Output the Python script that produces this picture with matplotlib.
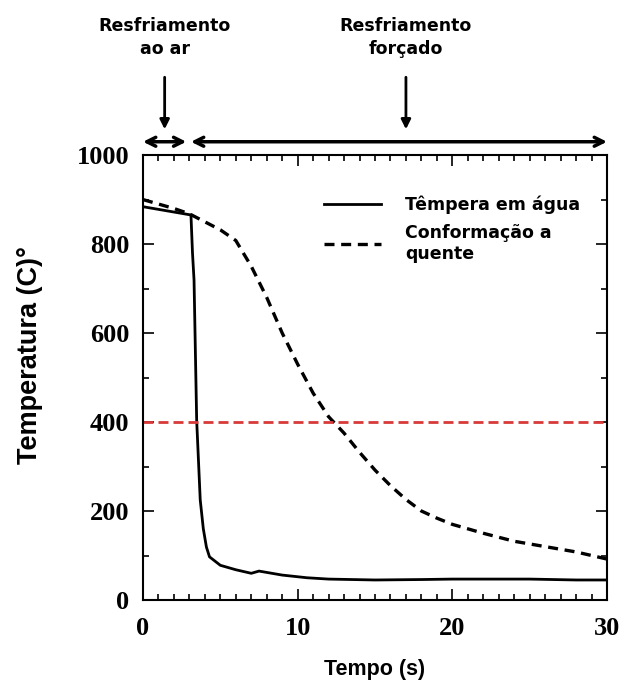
import matplotlib.pyplot as plt
from matplotlib.ticker import MultipleLocator

# curva solida: tempera em agua
t_agua = [0, 1, 2, 3, 3.1, 3.2, 3.3, 3.47, 3.7, 3.9, 4.1, 4.3, 5, 6, 7, 7.5, 8, 9, 10.6, 12, 15, 18, 20, 25, 28, 30]
T_agua = [884, 878, 872, 866, 866, 780, 719, 404, 225, 160, 119, 97, 78, 68, 60, 65, 62, 56, 50, 47, 45, 46, 47, 47, 45, 45]

# curva tracejada: conformacao a quente
t_conf = [0, 1, 2, 3, 4, 5, 6, 7, 8, 9, 10, 11, 12, 13, 14, 15, 16, 17, 18, 19, 20, 22, 24, 26, 28, 30]
T_conf = [900, 890, 880, 868, 850, 832, 808, 750, 680, 600, 530, 465, 412, 375, 332, 292, 257, 226, 200, 184, 170, 150, 132, 120, 108, 92]

limite = 400

fig = plt.figure(figsize=(6.22, 6.93), dpi=100)
ax = fig.add_axes([0.2299, 0.1342, 0.746, 0.642])

ax.plot(t_agua, T_agua, color='black', lw=2, label='Têmpera em água')
ax.plot(t_conf, T_conf, color='black', lw=2.4, ls=(0, (3, 2)), label='Conformação a\nquente')
ax.axhline(limite, color='#d83a3a', lw=2, ls=(0, (3.6, 1.8)))

ax.set_xlim(0, 30)
ax.set_ylim(0, 1000)
ax.xaxis.set_major_locator(MultipleLocator(10))
ax.xaxis.set_minor_locator(MultipleLocator(1))
ax.yaxis.set_major_locator(MultipleLocator(200))
ax.yaxis.set_minor_locator(MultipleLocator(100))
ax.tick_params(which='both', direction='in', top=True, right=True, width=1.2)
ax.tick_params(which='major', length=8)
ax.tick_params(which='minor', length=4)
for s in ax.spines.values():
    s.set_linewidth(1.5)

for lab in ax.get_xticklabels() + ax.get_yticklabels():
    lab.set_fontfamily('Liberation Serif')
    lab.set_fontweight('bold')
    lab.set_fontsize(19)
ax.tick_params(axis='x', pad=12)
ax.tick_params(axis='y', pad=10)

ax.set_xlabel('Tempo (s)', fontsize=15.5, fontweight='bold', family='Liberation Sans', labelpad=14)
ax.set_ylabel('Temperatura (C)°', fontsize=19.5, fontweight='bold', family='Liberation Sans')
ax.yaxis.set_label_coords(-0.215, 0.55)

leg = ax.legend(loc='upper right', bbox_to_anchor=(0.943, 0.91), frameon=False,
                prop={'family': 'DejaVu Sans', 'weight': 'bold', 'size': 12.5},
                handlelength=3.3, handletextpad=1.4, labelspacing=0.6,
                borderaxespad=0, borderpad=0)

# setas de regime de resfriamento
arr = dict(arrowstyle='<->', color='black', lw=2.5, mutation_scale=16, shrinkA=0, shrinkB=0)
ax.annotate('', xy=(0, 1030), xytext=(2.8, 1030), arrowprops=arr, annotation_clip=False)
ax.annotate('', xy=(3.1, 1030), xytext=(30, 1030), arrowprops=arr, annotation_clip=False)

down = dict(arrowstyle='-|>', color='black', lw=2, mutation_scale=14, shrinkA=0, shrinkB=0)
ax.annotate('', xy=(1.4, 1058), xytext=(1.4, 1175), arrowprops=down, annotation_clip=False)
ax.annotate('', xy=(17, 1058), xytext=(17, 1175), arrowprops=down, annotation_clip=False)

ax.text(1.4, 1310, 'Resfriamento\nao ar', ha='center', va='top', fontsize=12.5,
        fontweight='bold', family='DejaVu Sans', linespacing=1.35, clip_on=False)
ax.text(17, 1310, 'Resfriamento\nforçado', ha='center', va='top', fontsize=12.5,
        fontweight='bold', family='DejaVu Sans', linespacing=1.35, clip_on=False)

fig.savefig('out.png', dpi=100)
